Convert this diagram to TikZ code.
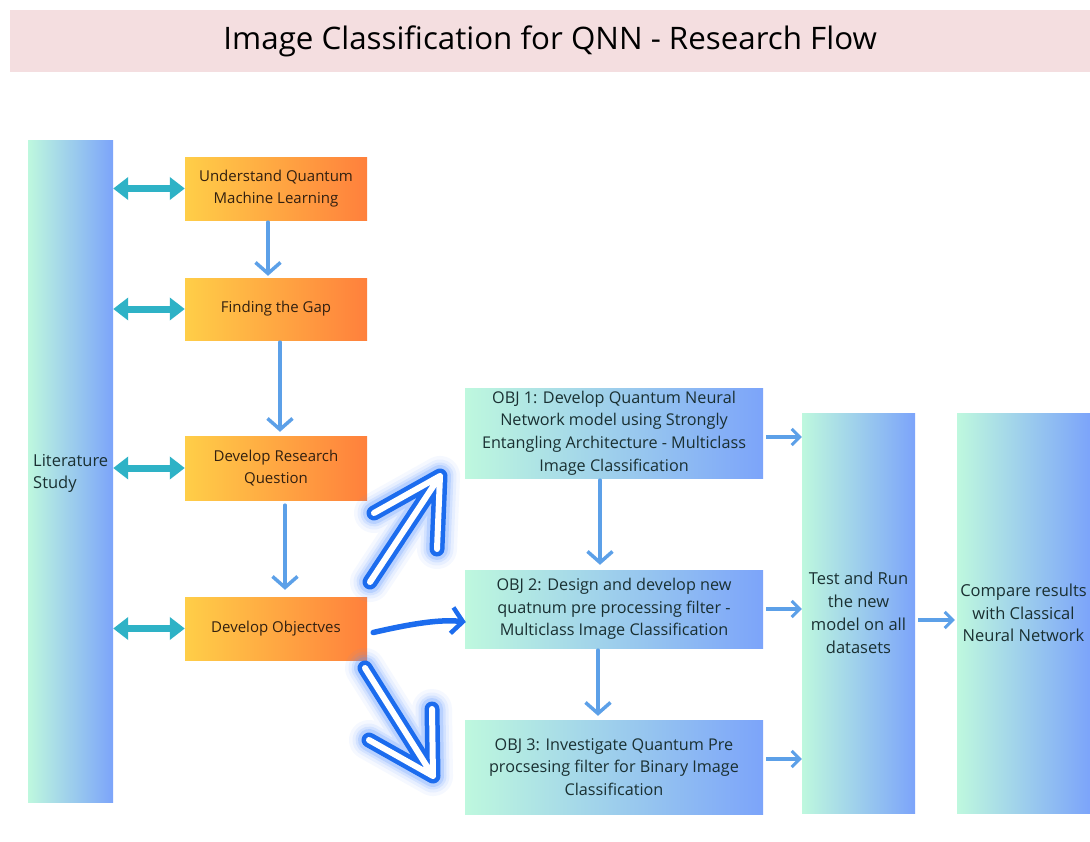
\documentclass[tikz,border=0pt]{standalone}
\usepackage{fontspec}
\setmainfont{Open Sans}
\usetikzlibrary{arrows.meta}

\definecolor{titlepink}{RGB}{244,222,224}
\definecolor{mint}{RGB}{190,248,222}
\definecolor{peri}{RGB}{124,164,250}
\definecolor{orangeL}{RGB}{255,206,72}
\definecolor{orangeR}{RGB}{255,128,60}
\definecolor{tealarrow}{RGB}{46,178,198}
\definecolor{flowblue}{RGB}{92,160,232}
\definecolor{brightblue}{RGB}{28,108,238}
\definecolor{glowblue}{RGB}{90,150,255}
\definecolor{inkbrown}{RGB}{50,32,16}
\definecolor{inkteal}{RGB}{26,48,50}

% outlined arrow with a soft blue halo: tail, tip, barb 1, barb 2
\newcommand\glowarrow[4]{%
  \foreach \w/\o in {40/0.06,33/0.09,27/0.14,22/0.22}{%
    \draw[glowblue, line width=\w pt, opacity=\o, line cap=round, line join=round]
      (#1) -- (#2) -- (#3) (#2) -- (#4);}
  \draw[brightblue, line width=15pt, line cap=round, line join=round]
      (#1) -- (#2) -- (#3) (#2) -- (#4);
  \draw[white, line width=6pt, line cap=round, line join=round]
      (#1) -- (#2) -- (#3) (#2) -- (#4);
}

\tikzset{
  stage/.style={rectangle, inner sep=2pt, align=center, text=inkbrown,
    left color=orangeL, right color=orangeR, minimum width=182pt,
    font=\fontsize{15}{22}\selectfont},
  objbox/.style={rectangle, inner sep=2pt, align=center, text=inkteal,
    left color=mint, right color=peri, minimum width=298pt,
    font=\fontsize{16.2}{22.6}\selectfont},
  column/.style={rectangle, inner sep=3pt, align=center, text=inkteal,
    left color=mint, right color=peri, minimum height=400pt,
    font=\fontsize{16.5}{22.8}\selectfont},
  dbl/.style={tealarrow, line width=7pt,
    {Triangle[length=15pt,width=22pt]}-{Triangle[length=15pt,width=22pt]}},
  flow/.style={flowblue, line width=3.5pt, line cap=round,
    -{Straight Barb[length=11pt,width=25pt,line width=3.5pt]}},
  feed/.style={flowblue, line width=3.5pt,
    -{Straight Barb[length=8pt,width=16pt,line width=3pt]}},
  bigflow/.style={brightblue, line width=5.5pt, line cap=round,
    -{Straight Barb[length=11pt,width=26pt,line width=4.5pt]}},
}

\begin{document}
\begin{tikzpicture}[x=1pt, y=-1pt]
\useasboundingbox (0,0) rectangle (1090,841);
\fill[white] (0,0) rectangle (1090,841);

% title band
\node[fill=titlepink, minimum width=1080pt, minimum height=62pt, inner sep=0pt,
      anchor=north west] (title) at (10,10)
  {\fontsize{31}{31}\selectfont\scalebox{1.01}[1]{Image Classification for QNN - Research Flow}};

% literature column
\node[rectangle, left color=mint, right color=peri, minimum width=85pt,
      minimum height=662pt, inner sep=0pt] (lit) at (70.5,471) {};
\node[anchor=west, align=left, inner sep=0pt, text=inkteal,
      font=\fontsize{16.5}{22}\selectfont] (littext) at (33,473) {Literature\\Study};

% research stages
\node[stage, minimum height=63pt] (q1) at (276,188.5) {Understand Quantum\\Machine Learning};
\node[stage, minimum height=62pt] (q2) at (276,309) {Finding the Gap};
\node[stage, minimum height=64pt] (q3) at (276,468) {Develop Research\\Question};
\node[stage, minimum height=63pt] (q4) at (276,628.5) {Develop Objectves};

% objectives
\node[objbox, minimum height=90pt] (o1) at (614,433)
  {OBJ 1: Develop Quantum Neural\\Network model using Strongly\\Entangling Architecture - Multiclass\\Image Classification};
\node[objbox, minimum height=78pt] (o2) at (614,609)
  {OBJ 2: Design and develop new\\quatnum pre processing filter -\\Multiclass Image Classification};
\node[objbox, minimum height=94pt] (o3) at (614,767)
  {OBJ 3: Investigate Quantum Pre\\procsesing filter for Binary Image\\Classification};

% evaluation columns
\node[column, minimum width=113pt] (test) at (858.5,613)
  {Test and Run\\the new\\model on all\\datasets};
\node[column, minimum width=133pt] (cmp) at (1023.5,613)
  {Compare results\\with Classical\\Neural Network};

% literature links
\foreach \q in {q1,q2,q3,q4}
  \draw[dbl] (lit.east |- \q.west) -- (\q.west);

% stage flow
\draw[flow] ([xshift=-8pt,yshift=-2pt]q1.south) -- ([xshift=-8pt,yshift=2pt]q2.north);
\draw[flow] ([xshift=4pt,yshift=-2pt]q2.south) -- ([xshift=4pt,yshift=4pt]q3.north);
\draw[flow] ([xshift=9pt,yshift=-5pt]q3.south) -- ([xshift=9pt,yshift=7pt]q4.north);

% objective flow
\draw[flow] ([xshift=-14pt,yshift=-2pt]o1.south) -- ([xshift=-14pt,yshift=5pt]o2.north);
\draw[flow] ([xshift=-16pt,yshift=-2pt]o2.south) -- ([xshift=-16pt,yshift=4pt]o3.north);

% objectives to testing
\draw[feed] ([xshift=3pt,yshift=-4pt]o1.east) -- ([yshift=-4pt]test.west |- o1.east);
\draw[feed] ([xshift=3pt]o2.east) -- (test.west |- o2.east);
\draw[feed] ([xshift=3pt,yshift=8pt]o3.east) -- ([yshift=8pt]test.west |- o3.east);
\draw[feed] ([xshift=3pt,yshift=-7pt]test.east) -- ([xshift=-2pt,yshift=-7pt]cmp.west);

% objectives branch out
\draw[bigflow] ([xshift=6pt,yshift=-4pt]q4.east) .. controls (410,624) and (440,619) .. ([xshift=1pt,yshift=-13pt]o2.west);
\coordinate (upTail) at (370,582);
\coordinate (upTip)  at (440,476);
\coordinate (upB1)   at (374,513);
\coordinate (upB2)   at (437,549);
\glowarrow{upTail}{upTip}{upB1}{upB2}
\coordinate (dnTail) at (365,668);
\coordinate (dnTip)  at (433,776);
\coordinate (dnB1)   at (369,740);
\coordinate (dnB2)   at (432,709);
\glowarrow{dnTail}{dnTip}{dnB1}{dnB2}
\end{tikzpicture}
\end{document}
